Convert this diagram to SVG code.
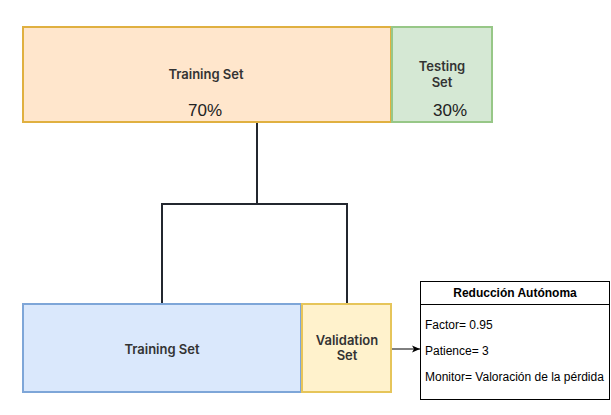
<svg xmlns="http://www.w3.org/2000/svg" width="611" height="415" viewBox="0 0 611 415">
<defs>
<style>
.lbl{font-family:Inter,"Liberation Sans",sans-serif;font-weight:600;font-size:13px;fill:#333;text-anchor:middle}
.pct{font-family:"Liberation Sans",Arial,sans-serif;font-size:17px;fill:#222;text-anchor:middle}
.sm{font-family:"Liberation Sans",Arial,sans-serif;font-size:12px;fill:#000}
.conn{fill:none;stroke:#23272f;stroke-width:2}
</style>
<marker id="arr" markerWidth="10" markerHeight="10" refX="9" refY="5" orient="auto" markerUnits="userSpaceOnUse">
<path d="M1,1.5 L9,5 L1,8.5 L3,5 Z" fill="#000"/>
</marker>
</defs>
<rect width="611" height="415" fill="#fff"/>
<g id="connectors">
<path class="conn" d="M257,122 V204 M162,303 V204 H347 V303"/>
<path d="M391,349 H420" fill="none" stroke="#000" stroke-width="1" marker-end="url(#arr)"/>
</g>
<g id="training-top">
<rect x="23" y="27" width="368" height="95" fill="#ffe6cc" stroke="#e0b040" stroke-width="2"/>
<text class="lbl" x="206" y="79">Training Set</text>
<text class="pct" x="205" y="116">70%</text>
</g>
<g id="testing">
<rect x="392" y="27" width="100" height="95" fill="#d5e8d4" stroke="#97c787" stroke-width="2"/>
<text class="lbl" x="442" y="71">Testing</text>
<text class="lbl" x="442" y="87">Set</text>
<text class="pct" x="450" y="116">30%</text>
</g>
<g id="training-bottom">
<rect x="23" y="304" width="278" height="88" fill="#dae8fc" stroke="#7ea6d8" stroke-width="2"/>
<text class="lbl" x="162" y="354">Training Set</text>
</g>
<g id="validation">
<rect x="302" y="304" width="89" height="88" fill="#fff2cc" stroke="#e6c55a" stroke-width="2"/>
<text class="lbl" x="347" y="345">Validation</text>
<text class="lbl" x="347" y="360">Set</text>
</g>
<g id="reduccion">
<rect x="420.5" y="281.5" width="189" height="118" fill="#fff" stroke="#000"/>
<line x1="420.5" y1="304.5" x2="609.5" y2="304.5" stroke="#000"/>
<text class="sm" x="515" y="297" text-anchor="middle" font-weight="bold">Reducción Autónoma</text>
<text class="sm" x="425" y="329">Factor= 0.95</text>
<text class="sm" x="425" y="355">Patience= 3</text>
<text class="sm" x="425" y="381">Monitor= Valoración de la pérdida</text>
</g>
</svg>
